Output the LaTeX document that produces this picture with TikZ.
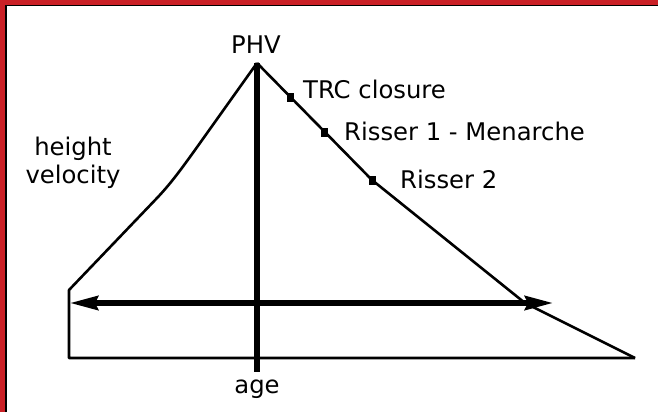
\documentclass[tikz,border=0pt]{standalone}
\usepackage{fontspec}
\setmainfont{DejaVu Sans}
\usetikzlibrary{arrows.meta}
\definecolor{framered}{RGB}{202,32,38}
\begin{document}
\begin{tikzpicture}[x=1pt, y=-1pt]
        \tikzstyle{curve}=[black, line width=2.6pt, line join=round]
        \tikzstyle{axis}=[black, line width=5.2pt]
        \tikzstyle{label}=[inner sep=0pt, font=\fontsize{24.3}{28.3}\selectfont]
        \tikzstyle{marker}=[fill=black, inner sep=0pt, minimum width=7pt, minimum height=9pt]
        \useasboundingbox (0,0) rectangle (658,412);
        % frame, left and top only
        \fill[framered] (0,0) rectangle (658,5);
        \fill[framered] (0,0) rectangle (5,412);
        \draw[black, line width=1.5pt] (5.75,412) -- (5.75,5.75) -- (658,5.75);
        % points of the curve
        \coordinate (peak) at (257,63);
        \coordinate (lefttop) at (69,290);
        \coordinate (leftbot) at (69,358);
        \coordinate (rightbot) at (635,358);
        \coordinate (axisbot) at (257,372);
        \coordinate (arrL) at (70,303);
        \coordinate (arrR) at (553,303);
        % height velocity curve
        \draw[curve] (rightbot) -- (leftbot) -- (lefttop) -- (158,197)
            .. controls (172,182) and (182,168) .. (195,150) -- (peak);
        \draw[curve] (peak) -- (372,180) -- (525,303) -- (rightbot);
        % axes
        \draw[axis] (peak) -- (axisbot);
        \draw[axis, {Stealth[length=28pt, width=14pt, inset=3pt]}-{Stealth[length=28pt, width=14pt, inset=3pt]}] (arrL) -- (arrR);
        % markers on the curve
        \node[marker] (trc) at (290.5,97) {};
        \node[marker] (ris1) at (324.5,132) {};
        \node[marker] (ris2) at (372,180) {};
        % labels
        \node[label, anchor=base] (phv) at (256,53.3) {PHV};
        \node[label, anchor=base] (age) at (257,393) {age};
        \node[label, anchor=base west] (trclab) at (303,98.3) {TRC closure};
        \node[label, anchor=base west] (ris1lab) at (344,140) {Risser 1 - Menarche};
        \node[label, anchor=base west] (ris2lab) at (400,188.3) {Risser 2};
        \node[label, align=center, anchor=base] (hv) at (73,183.3) {height\\velocity};
    \end{tikzpicture}
\end{document}
